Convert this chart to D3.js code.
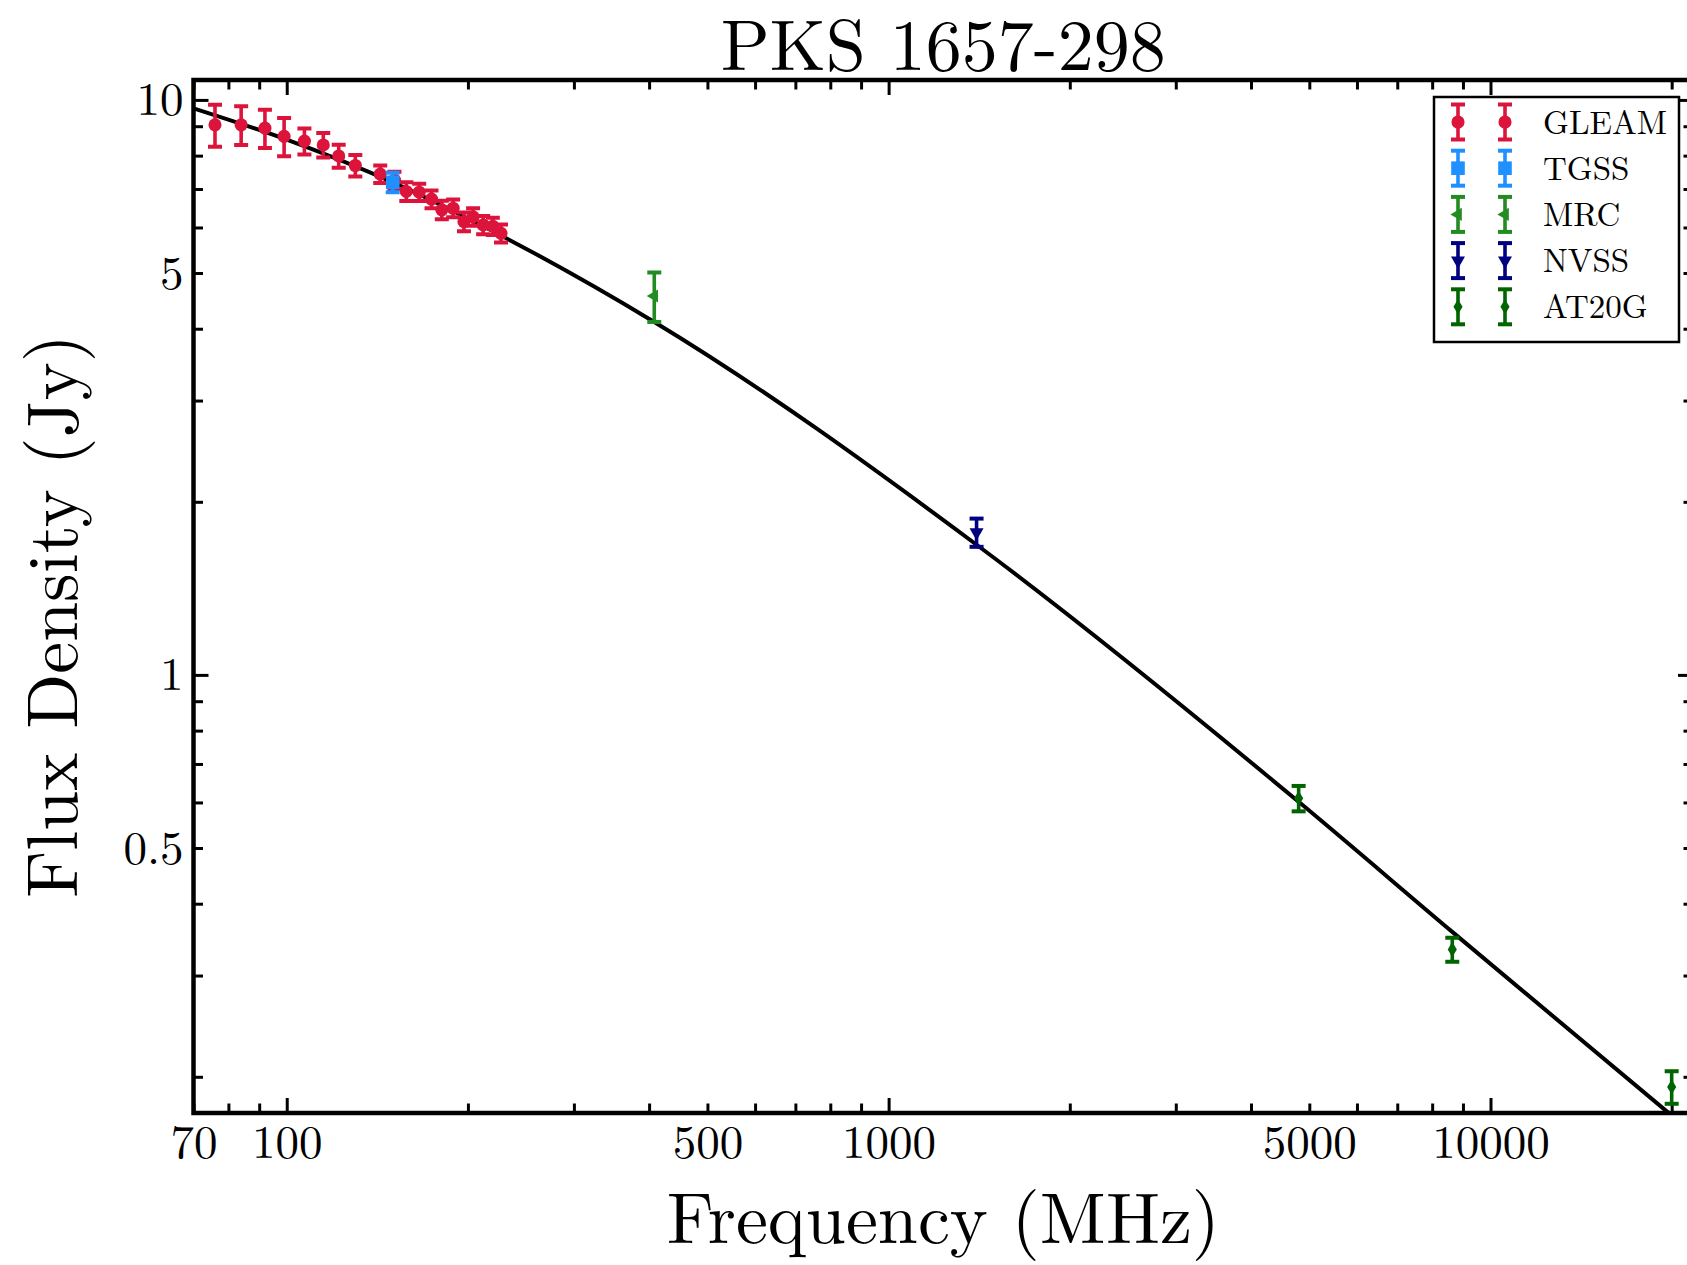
<!DOCTYPE html>
<html>
<head>
<meta charset="utf-8">
<title>PKS 1657-298</title>
<script src="https://cdn.jsdelivr.net/npm/d3@7/dist/d3.min.js"></script>
<style>
    body { margin: 0; background: #fff; }
    #chart-area { width: 1687px; height: 1265px; overflow: hidden; }
</style>
</head>
<body>
<div id="chart-area"></div>
<script>

// GLEAM (MWA) sub-bands
var gleamFreq = [76, 84, 92, 99, 107, 115, 122, 130, 143, 151, 158, 166, 174, 181, 189, 197, 204, 212, 220, 227];
var gleamFlux = [9.05, 9.05, 8.93, 8.64, 8.48, 8.35, 7.99, 7.69, 7.43, 7.25, 6.93, 6.91, 6.72, 6.44, 6.48, 6.14, 6.26, 6.06, 6.03, 5.86];
var gleamErr  = [0.76, 0.70, 0.68, 0.66, 0.44, 0.41, 0.37, 0.33, 0.26, 0.25, 0.26, 0.24, 0.24, 0.24, 0.23, 0.23, 0.22, 0.22, 0.21, 0.21];

var tgssFreq = [150];
var tgssFlux = [7.19];
var tgssErr  = [0.28];

var mrcFreq = [408];
var mrcFlux = [4.56];
var mrcErr  = [0.45];

var nvssFreq = [1400];
var nvssFlux = [1.77];
var nvssErr  = [0.10];

var at20gFreq = [4800, 8640, 20000];
var at20gFlux = [0.61, 0.333, 0.192];
var at20gErr  = [0.031, 0.016, 0.0125];

// fitted model
var fitFreq = [70, 100, 150, 227, 408, 1400, 4800, 8640, 19770];
var fitFlux = [9.67, 8.53, 7.19, 5.81, 4.11, 1.684, 0.6015, 0.3573, 0.173];

var xTickLabels = [70, 100, 500, 1000, 5000, 10000];
var yTickLabels = [0.5, 1, 5, 10];

var seriesNames = ["GLEAM", "TGSS", "MRC", "NVSS", "AT20G"];

var colorMapping = {
    "GLEAM": "#dc143c",
    "TGSS": "#1e90ff",
    "MRC": "#228b22",
    "NVSS": "#000080",
    "AT20G": "#006400"
};

var serifFont = "'Latin Modern Roman', 'CMU Serif', 'Liberation Serif', 'Times New Roman', serif";

// matplotlib style thin diamond
var thinDiamond = {
    draw: function(context, size) {
        var h = Math.sqrt(size) * 0.85, w = h * 0.6;
        context.moveTo(0, -h);
        context.lineTo(w, 0);
        context.lineTo(0, h);
        context.lineTo(-w, 0);
        context.closePath();
    }
};

var markerMapping = {
    "GLEAM": {type: d3.symbolCircle, size: 135, rotate: 0},
    "TGSS": {type: d3.symbolSquare, size: 185, rotate: 0},
    "MRC": {type: d3.symbolTriangle, size: 75, rotate: -90},
    "NVSS": {type: d3.symbolTriangle, size: 85, rotate: 180},
    "AT20G": {type: thinDiamond, size: 80, rotate: 0}
};


SedVis = function(_parentElement) {
    this.parentElement = _parentElement;
    this.displayData = [];

    this.initVis();
};

SedVis.prototype.initVis = function() {
    var vis = this;

    vis.margin = {top: 80, right: -6, bottom: 152, left: 193.5};
    vis.width = 1687 - vis.margin.left - vis.margin.right;
    vis.height = 1265 - vis.margin.top - vis.margin.bottom;

    vis.svg = d3.select("#" + vis.parentElement).append("svg")
        .attr("width", 1687)
        .attr("height", 1265)
        .append("g")
        .attr("transform", "translate(" + vis.margin.left + "," + vis.margin.top + ")");

    vis.xScale = d3.scaleLog()
        .domain([70, 21700])
        .range([0, vis.width]);

    vis.yScale = d3.scaleLog()
        .domain([0.173, 10.83])
        .range([vis.height, 0]);

    // major ticks on decades, minor on the rest
    var xAll = vis.xScale.ticks();
    var yAll = vis.yScale.ticks();
    vis.xMajor = xAll.filter(function(d) { return isDecade(d); });
    vis.xMinor = xAll.filter(function(d) { return !isDecade(d); });
    vis.yMajor = yAll.filter(function(d) { return isDecade(d); });
    vis.yMinor = yAll.filter(function(d) { return !isDecade(d); });

    vis.svg.append("defs").append("clipPath")
        .attr("id", "plot-clip")
        .append("rect")
        .attr("width", vis.width)
        .attr("height", vis.height);

    vis.line = d3.line()
        .x(function(d) { return vis.xScale(d.freq); })
        .y(function(d) { return vis.yScale(d.flux); })
        .curve(d3.curveMonotoneX);

    vis.drawAxes();

    vis.wrangleData();
};

function isDecade(d) {
    var l = Math.log10(d);
    return Math.abs(l - Math.round(l)) < 1e-9;
}

SedVis.prototype.drawAxes = function() {
    var vis = this;

    var axes = [
        {gen: d3.axisBottom, transform: "translate(0," + vis.height + ")", scale: vis.xScale, major: vis.xMajor, minor: vis.xMinor},
        {gen: d3.axisTop, transform: "translate(0,0)", scale: vis.xScale, major: vis.xMajor, minor: vis.xMinor},
        {gen: d3.axisLeft, transform: "translate(0,0)", scale: vis.yScale, major: vis.yMajor, minor: vis.yMinor},
        {gen: d3.axisRight, transform: "translate(" + vis.width + ",0)", scale: vis.yScale, major: vis.yMajor, minor: vis.yMinor}
    ];

    axes.forEach(function(a) {
        var g = vis.svg.append("g")
            .attr("class", "axis")
            .attr("transform", a.transform);

        g.append("g").call(a.gen(a.scale).tickValues(a.minor).tickSize(-9.5).tickFormat(""));
        g.append("g").call(a.gen(a.scale).tickValues(a.major).tickSize(-15).tickFormat(""));

        g.selectAll(".tick line")
            .attr("stroke", "#000")
            .attr("stroke-width", 3);
        // tick marks only, labels are drawn separately
        g.selectAll(".tick text").remove();
        g.selectAll(".domain").remove();
    });

    // tick labels
    vis.svg.append("g")
        .attr("class", "x-axis-labels")
        .attr("transform", "translate(0," + vis.height + ")")
        .call(d3.axisBottom(vis.xScale).tickValues(xTickLabels).tickSize(0).tickPadding(12)
            .tickFormat(d3.format("d")))
        .call(function(g) { g.select(".domain").remove(); })
        .selectAll("text")
        .attr("font-family", serifFont)
        .attr("font-size", 47)
        .attr("fill", "#000");

    vis.svg.append("g")
        .attr("class", "y-axis-labels")
        .call(d3.axisLeft(vis.yScale).tickValues(yTickLabels).tickSize(0).tickPadding(10)
            .tickFormat(function(d) { return d; }))
        .call(function(g) { g.select(".domain").remove(); })
        .selectAll("text")
        .attr("font-family", serifFont)
        .attr("font-size", 47)
        .attr("fill", "#000");

    // frame
    vis.svg.append("rect")
        .attr("class", "frame")
        .attr("width", vis.width)
        .attr("height", vis.height)
        .attr("fill", "none")
        .attr("stroke", "#000")
        .attr("stroke-width", 4.5);

    vis.svg.append("text")
        .attr("class", "title")
        .attr("x", vis.width / 2)
        .attr("y", -10)
        .attr("text-anchor", "middle")
        .attr("font-family", serifFont)
        .attr("font-size", 72)
        .text("PKS 1657-298");

    vis.svg.append("text")
        .attr("class", "axis-label")
        .attr("x", vis.width / 2)
        .attr("y", vis.height + 130)
        .attr("text-anchor", "middle")
        .attr("font-family", serifFont)
        .attr("font-size", 72)
        .text("Frequency (MHz)");

    vis.svg.append("text")
        .attr("class", "axis-label")
        .attr("transform", "translate(" + (77 - vis.margin.left) + "," + (616 - vis.margin.top) + "), rotate(-90)")
        .attr("text-anchor", "middle")
        .attr("font-family", serifFont)
        .attr("font-size", 72)
        .text("Flux Density (Jy)");
};

SedVis.prototype.wrangleData = function() {
    var vis = this;

    var raw = {
        "GLEAM": [gleamFreq, gleamFlux, gleamErr],
        "TGSS": [tgssFreq, tgssFlux, tgssErr],
        "MRC": [mrcFreq, mrcFlux, mrcErr],
        "NVSS": [nvssFreq, nvssFlux, nvssErr],
        "AT20G": [at20gFreq, at20gFlux, at20gErr]
    };

    vis.displayData = seriesNames.map(function(name) {
        var r = raw[name];
        return {
            key: name,
            values: r[0].map(function(f, i) {
                return {freq: f, flux: r[1][i], err: r[2][i]};
            })
        };
    });

    vis.fitData = fitFreq.map(function(f, i) {
        return {freq: f, flux: fitFlux[i]};
    });

    vis.updateVis();
};

function markerSymbol(key) {
    var m = markerMapping[key];
    return d3.symbol().type(m.type).size(m.size)();
}

function drawErrorBar(g, top, bottom, mid, key) {
    var color = colorMapping[key];
    var capW = 7;
    g.append("line")
        .attr("x1", 0).attr("x2", 0)
        .attr("y1", top).attr("y2", bottom)
        .attr("stroke", color)
        .attr("stroke-width", 3.6);
    [top, bottom].forEach(function(y) {
        g.append("line")
            .attr("x1", -capW).attr("x2", capW)
            .attr("y1", y).attr("y2", y)
            .attr("stroke", color)
            .attr("stroke-width", 4);
    });
    g.append("path")
        .attr("d", markerSymbol(key))
        .attr("transform", "translate(0," + mid + ") rotate(" + markerMapping[key].rotate + ")")
        .attr("fill", color);
}

SedVis.prototype.updateVis = function() {
    var vis = this;

    var plot = vis.svg.append("g")
        .attr("clip-path", "url(#plot-clip)");

    // model curve
    plot.append("path")
        .datum(vis.fitData)
        .attr("class", "fit-line")
        .attr("d", vis.line)
        .attr("fill", "none")
        .attr("stroke", "#000")
        .attr("stroke-width", 4);

    // points with error bars
    var series = plot.selectAll(".series")
        .data(vis.displayData)
        .enter()
        .append("g")
        .attr("class", function(d) { return "series series-" + d.key; });

    series.each(function(s) {
        d3.select(this).selectAll(".point")
            .data(s.values)
            .enter()
            .append("g")
            .attr("class", "point")
            .attr("transform", function(d) { return "translate(" + vis.xScale(d.freq) + ",0)"; })
            .each(function(d) {
                drawErrorBar(d3.select(this),
                    vis.yScale(d.flux + d.err),
                    vis.yScale(d.flux - d.err),
                    vis.yScale(d.flux),
                    s.key);
            });
    });

    // legend
    var legendX = 1434 - vis.margin.left;
    var legendY = 97 - vis.margin.top;

    var legend = vis.svg.append("g")
        .attr("class", "legend")
        .attr("transform", "translate(" + legendX + "," + legendY + ")");

    legend.append("rect")
        .attr("width", 245)
        .attr("height", 245)
        .attr("fill", "#fff")
        .attr("stroke", "#000")
        .attr("stroke-width", 2.5);

    var rows = legend.selectAll(".legend-row")
        .data(seriesNames)
        .enter()
        .append("g")
        .attr("class", "legend-row")
        .attr("transform", function(d, i) { return "translate(0," + (25 + i * 46.2) + ")"; });

    rows.each(function(key) {
        var row = d3.select(this);
        [24, 71].forEach(function(x) {
            var glyph = row.append("g").attr("transform", "translate(" + x + ",0)");
            drawErrorBar(glyph, -17.5, 17.5, 0, key);
        });
        row.append("text")
            .attr("x", 109)
            .attr("dy", "0.35em")
            .attr("font-family", serifFont)
            .attr("font-size", 33)
            .text(key);
    });
};

new SedVis("chart-area");

</script>
</body>
</html>
